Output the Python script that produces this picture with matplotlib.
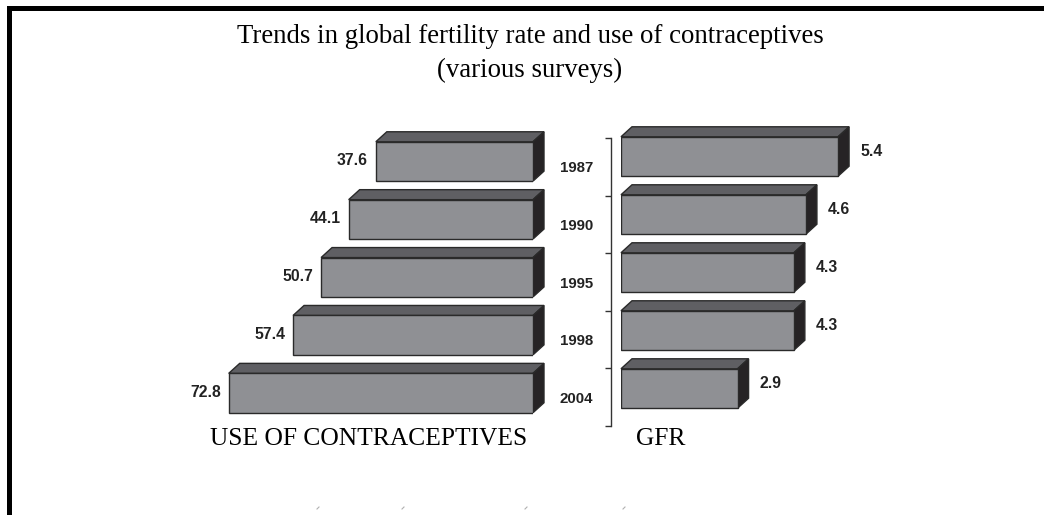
import matplotlib
matplotlib.use("Agg")
import matplotlib.pyplot as plt
import numpy as np
from matplotlib.patches import Polygon, Rectangle
from matplotlib.transforms import IdentityTransform
from matplotlib.lines import Line2D

# ---- data ----
years = ["1987", "1990", "1995", "1998", "2004"]
contraceptive_use = [37.6, 44.1, 50.7, 57.4, 72.8]
gfr = [5.4, 4.6, 4.3, 4.3, 2.9]
title_line1 = "Trends in global fertility rate and use of contraceptives"
title_line2 = "(various surveys)"
left_label = "USE OF CONTRACEPTIVES"
right_label = "GFR"

# ---- style ----
W, H = 1044, 515
FRONT = "#8f9094"
TOP = "#5f5f63"
SIDE = "#262325"
EDGE = "#2a2a2a"
SERIF = ["Liberation Serif", "DejaVu Serif"]
SANS_B = ["Liberation Sans", "DejaVu Sans"]
NARROW = ["Liberation Sans Narrow", "Liberation Sans", "DejaVu Sans"]

fig = plt.figure(figsize=(W / 100, H / 100), dpi=100)
fig.patch.set_facecolor("white")


def rect(x0, y0, x1, y1):
    return [x0 / W, 1 - y1 / H, (x1 - x0) / W, (y1 - y0) / H]


BAR_H = 0.68
DX, DY = 11, 10  # depth in pixels


def draw_3d(ax, values):
    n = len(values)
    ys = np.arange(n)
    ax.barh(ys, values, height=BAR_H, color=FRONT, edgecolor=EDGE,
            linewidth=1.0, zorder=3)
    for i, v in enumerate(values):
        p0 = ax.transData.transform((0, i - BAR_H / 2))
        p1 = ax.transData.transform((v, i + BAR_H / 2))
        xl, xr = min(p0[0], p1[0]), max(p0[0], p1[0])
        yt, yb = max(p0[1], p1[1]), min(p0[1], p1[1])
        top = [(xl, yt), (xr, yt), (xr + DX, yt + DY), (xl + DX, yt + DY)]
        side = [(xr, yt), (xr + DX, yt + DY), (xr + DX, yb + DY), (xr, yb)]
        ax.add_patch(Polygon(top, closed=True, facecolor=TOP, edgecolor=EDGE,
                             linewidth=1.0, transform=IdentityTransform(),
                             clip_on=False, zorder=2))
        ax.add_patch(Polygon(side, closed=True, facecolor=SIDE, edgecolor=EDGE,
                             linewidth=1.0, transform=IdentityTransform(),
                             clip_on=False, zorder=2))


def clean(ax):
    for s in ax.spines.values():
        s.set_visible(False)
    ax.set_xticks([])
    ax.set_yticks([])
    ax.patch.set_alpha(0)


# left axes: contraceptive use (bars grow leftwards)
axL = fig.add_axes(rect(200, 132.5, 533, 422))
axL.set_xlim(333 / 4.18, 0)
axL.set_ylim(4.5, -0.5)
clean(axL)
draw_3d(axL, contraceptive_use)
for i, v in enumerate(contraceptive_use):
    axL.annotate(f"{v:.1f}", xy=(v, i), xytext=(-8, 1),
                 textcoords="offset pixels", ha="right", va="center",
                 fontsize=11.3, fontweight="bold", family=SANS_B,
                 color="#222222")

# right axes: GFR
axR = fig.add_axes(rect(621, 127.5, 921, 417.5))
axR.set_xlim(0, 300 / 40.2)
axR.set_ylim(4.5, -0.5)
clean(axR)
draw_3d(axR, gfr)
for i, v in enumerate(gfr):
    axR.annotate(f"{v:.1f}", xy=(v, i), xytext=(22, 5),
                 textcoords="offset pixels", ha="left", va="center",
                 fontsize=11.3, fontweight="bold", family=SANS_B,
                 color="#222222")

# bracket with year labels
axB = fig.add_axes(rect(611, 138, 612, 426))
axB.set_ylim(4.5, -0.5)
axB.set_xlim(0, 1)
for k in ["top", "right", "bottom"]:
    axB.spines[k].set_visible(False)
axB.spines["left"].set_color("#333333")
axB.spines["left"].set_linewidth(1.0)
axB.set_xticks([])
axB.set_yticks(np.arange(len(years)))
axB.set_yticklabels(years, fontsize=10.8, fontweight="bold", family=NARROW,
                    color="#222222")
axB.set_yticks(np.arange(-0.5, len(years), 1.0), minor=True)
axB.tick_params(axis="y", which="major", length=0, pad=13)
axB.tick_params(axis="y", which="minor", length=4.3, width=1.0,
                color="#333333")
axB.patch.set_alpha(0)

# titles and section labels
fig.text(530 / W, 1 - 43 / H, title_line1, ha="center", va="baseline",
         fontsize=19.3, family=SERIF, color="black")
fig.text(530 / W, 1 - 77 / H, title_line2, ha="center", va="baseline",
         fontsize=19.3, family=SERIF, color="black")
fig.text(210 / W, 1 - 445 / H, left_label, ha="left", va="baseline",
         fontsize=18.4, family=SERIF, color="black")
fig.text(636 / W, 1 - 445 / H, right_label, ha="left", va="baseline",
         fontsize=18.4, family=SERIF, color="black")

# frame (top and left black bands)
fig.add_artist(Rectangle((7 / W, 1 - 11 / H), 1 - 7 / W, 5 / H,
                         transform=fig.transFigure, facecolor="black",
                         edgecolor="none"))
fig.add_artist(Rectangle((7 / W, 0), 5 / W, 1 - 6 / H,
                         transform=fig.transFigure, facecolor="black",
                         edgecolor="none"))

# faint stray marks at bottom
for xp in [317, 402, 525, 623]:
    fig.add_artist(Line2D([xp / W, (xp + 2) / W], [1 - 509 / H, 1 - 507 / H],
                          transform=fig.transFigure, color="#b0b0b0",
                          linewidth=0.8))

fig.savefig("out.png", dpi=100, facecolor="white")
